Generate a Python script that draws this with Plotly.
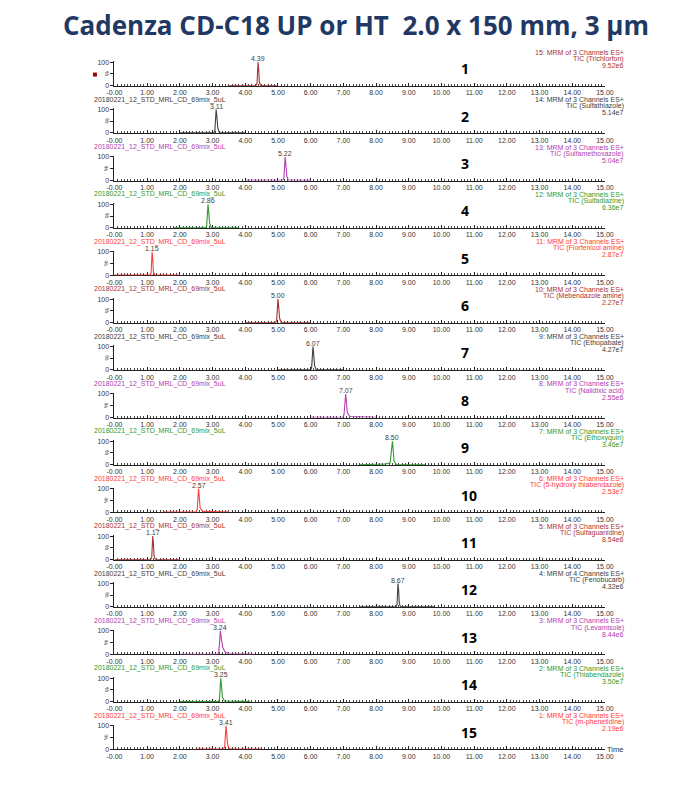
import plotly.graph_objects as go

# ---------------- data ----------------
compounds = ["Trichlorfon", "Sulfathiazole", "Sulfamethoxazole", "Sulfadiazine",
             "Florfenicol amine", "Mebendazole amine", "Ethopabate", "Nalidixic acid",
             "Ethoxyquin", "5-hydroxy thiabendazole", "Sulfaguanidine", "Fenobucarb",
             "Levamisole", "Thiabendazole", "m-phenetidine"]
function_no = [15, 14, 13, 12, 11, 10, 9, 8, 7, 6, 5, 4, 3, 2, 1]
channels = [3, 3, 3, 3, 3, 3, 3, 3, 3, 3, 3, 4, 3, 3, 3]
intensity_labels = ["9.52e6", "5.14e7", "5.04e7", "6.36e7", "2.87e7", "2.27e7", "4.27e7",
                    "2.55e6", "3.46e7", "2.53e7", "8.54e6", "4.32e6", "8.44e6", "3.50e7", "2.19e6"]
retention = [4.39, 3.11, 5.22, 2.86, 1.15, 5.00, 6.07, 7.07, 8.50, 2.57, 1.17, 8.67, 3.24, 3.25, 3.41]
peak_numbers = ["1", "2", "3", "4", "5", "6", "7", "8", "9", "10", "11", "12", "13", "14", "15"]
sample_name = "20180221_12_STD_MRL_CD_69mix_5uL"

# chromatogram vertices (time, %)
trace_times = [
    [3.50, 4.33, 4.36, 4.38, 4.39, 4.41, 4.43, 4.47, 5.00],
    [2.00, 3.04, 3.07, 3.10, 3.11, 3.13, 3.16, 3.21, 4.00],
    [4.00, 5.15, 5.18, 5.21, 5.22, 5.24, 5.27, 5.32, 6.00],
    [1.80, 2.79, 2.82, 2.85, 2.86, 2.88, 2.91, 2.96, 3.80],
    [0.00, 1.09, 1.12, 1.14, 1.15, 1.17, 1.19, 1.23, 2.00],
    [4.00, 4.93, 4.96, 4.99, 5.00, 5.02, 5.05, 5.10, 6.00],
    [5.00, 6.00, 6.03, 6.06, 6.07, 6.09, 6.12, 6.17, 7.00],
    [6.00, 6.99, 7.02, 7.05, 7.07, 7.09, 7.12, 7.20, 8.00],
    [7.50, 8.00, 8.30, 8.43, 8.47, 8.50, 8.52, 8.55, 8.62, 9.50],
    [1.50, 2.50, 2.53, 2.56, 2.57, 2.59, 2.62, 2.70, 3.50],
    [0.00, 1.11, 1.14, 1.16, 1.17, 1.19, 1.21, 1.25, 2.00],
    [7.50, 8.61, 8.64, 8.66, 8.67, 8.69, 8.71, 8.75, 9.80],
    [2.00, 3.15, 3.19, 3.22, 3.24, 3.27, 3.31, 3.38, 3.50, 4.25],
    [2.00, 3.18, 3.21, 3.24, 3.25, 3.27, 3.30, 3.36, 4.15],
    [2.50, 3.34, 3.37, 3.40, 3.41, 3.43, 3.46, 3.52, 4.50],
]
trace_levels = [
    [0, 0, 10, 70, 100, 70, 15, 0, 0],
    [0, 0, 12, 75, 100, 72, 20, 0, 0],
    [0, 0, 10, 72, 100, 70, 18, 0, 0],
    [0, 0, 10, 72, 100, 70, 18, 0, 0],
    [0, 0, 10, 75, 100, 70, 15, 0, 0],
    [0, 0, 10, 75, 100, 70, 18, 0, 0],
    [0, 0, 10, 72, 100, 70, 18, 0, 0],
    [0, 0, 12, 70, 100, 72, 20, 3, 0],
    [0, 0, 3, 8, 60, 100, 70, 15, 0, 0],
    [0, 0, 10, 75, 100, 70, 18, 3, 0],
    [0, 0, 10, 75, 100, 70, 15, 0, 0],
    [0, 0, 10, 75, 100, 70, 15, 0, 0],
    [0, 0, 10, 60, 100, 65, 30, 10, 2, 0],
    [0, 0, 10, 70, 100, 70, 20, 3, 0],
    [0, 0, 10, 72, 100, 70, 18, 0, 0],
]

x_tick_values = list(range(0, 16))
x_tick_labels = ["-0.00", "1.00", "2.00", "3.00", "4.00", "5.00", "6.00", "7.00", "8.00",
                 "9.00", "10.00", "11.00", "12.00", "13.00", "14.00", "15.00"]
y_tick_values = [0, 50, 100]
y_tick_labels = ["0", "", "100"]

# ---------------- styling ----------------
PAGE_W, PAGE_H = 699, 798
BODY = 8                      # default page margin around the plot div
W, H = PAGE_W - 2 * BODY, PAGE_H - 2 * BODY
palette = ["#a83232", "#404040", "#b040b0", "#2f9a2f", "#ff3b3b"]
font_ms = "Liberation Sans, Arial, sans-serif"
x_left_px, x_right_px = 109, 612
zero0_px, pitch_px, span_px = 84.0, 47.7, 23.5
unit_px = span_px / 100.0
y_lo, y_hi = -1, 105


def py(px):
    return 1 - (px - BODY) / H


def pxx(px):
    return (px - BODY) / W


fig = go.Figure()
layout = dict(
    width=W, height=H, margin=dict(l=0, r=0, t=0, b=0),
    paper_bgcolor="white", plot_bgcolor="white", showlegend=False,
)
annotations = []
shapes = []

for k in range(15):
    n = "" if k == 0 else str(k + 1)
    color = palette[k % 5]
    z = zero0_px + k * pitch_px
    fig.add_trace(go.Scatter(
        x=trace_times[k], y=trace_levels[k], mode="lines",
        line=dict(color=color, width=1.1), xaxis="x" + n, yaxis="y" + n,
        hoverinfo="skip",
    ))
    layout["xaxis" + n] = dict(
        domain=[pxx(x_left_px), pxx(x_right_px)], range=[0, 15], anchor="y" + n,
        tickmode="array", tickvals=x_tick_values, ticktext=x_tick_labels,
        ticks="inside", ticklen=3, tickwidth=1, tickcolor="#222",
        minor=dict(dtick=0.1, ticks="inside", ticklen=2, tickcolor="#444", tickwidth=0.8),
        showline=True, linecolor="#222", linewidth=1, showgrid=False, zeroline=False,
        tickfont=dict(family=font_ms, size=7, color="#333"), layer="below traces",
        fixedrange=True,
    )
    layout["yaxis" + n] = dict(
        domain=[py(z + (0 - y_lo) * unit_px), py(z - y_hi * unit_px)],
        range=[y_lo, y_hi], anchor="x" + n,
        tickmode="array", tickvals=y_tick_values, ticktext=y_tick_labels,
        ticks="outside", ticklen=3, tickwidth=1, tickcolor="#222",
        showline=True, linecolor="#222", linewidth=1, showgrid=False, zeroline=False,
        tickfont=dict(family=font_ms, size=7, color="#333"),
        fixedrange=True,
    )
    # rotated % on y axis
    annotations.append(dict(
        xref="paper", yref="paper", x=pxx(105), y=py(z - 12), text="%",
        showarrow=False, xanchor="right", yanchor="middle", textangle=-90,
        borderpad=0, font=dict(family=font_ms, size=6, color="#333"),
    ))
    # peak retention label
    annotations.append(dict(
        xref="x" + n, yref="y" + n, x=retention[k], y=100, text=f"{retention[k]:.2f}",
        showarrow=False, xanchor="center", yanchor="bottom", yshift=-1,
        borderpad=0, font=dict(family=font_ms, size=7, color="#404040"),
    ))
    # right-hand channel description
    top = z - pitch_px
    lines = [f"{function_no[k]}: MRM of {channels[k]} Channels ES+",
             f"TIC ({compounds[k]})", intensity_labels[k]]
    for j, t in enumerate(lines):
        annotations.append(dict(
            xref="paper", yref="paper", x=pxx(633), y=py(top + 14.2 + j * 6.6), text=t,
            showarrow=False, xanchor="right", yanchor="middle", borderpad=0,
            font=dict(family=font_ms, size=7, color=color),
        ))
    # sample name above panel
    if k > 0:
        annotations.append(dict(
            xref="paper", yref="paper", x=pxx(87), y=py(top + 14.2), text=sample_name,
            showarrow=False, xanchor="left", yanchor="middle", borderpad=0,
            font=dict(family=font_ms, size=7, color=color),
        ))
    # bold panel number
    annotations.append(dict(
        xref="paper", yref="paper", x=pxx(463), y=py(z - 17), text=f"<b>{peak_numbers[k]}</b>",
        showarrow=False, xanchor="left", yanchor="middle", borderpad=0,
        font=dict(family="Open Sans, Noto Sans, sans-serif", size=14, color="black"),
    ))

# "Time" axis caption
annotations.append(dict(
    xref="paper", yref="paper", x=pxx(613), y=py(zero0_px + 14 * pitch_px), text="Time",
    showarrow=False, xanchor="left", yanchor="middle", borderpad=0,
    font=dict(family=font_ms, size=7.5, color="#333"),
))
# Title
annotations.append(dict(
    xref="paper", yref="paper", x=pxx(357), y=py(23),
    text="<b>Cadenza CD-C18 UP or HT&nbsp;&nbsp;2.0 x 150 mm, 3 µm</b>",
    showarrow=False, xanchor="center", yanchor="middle", borderpad=0,
    font=dict(family="Open Sans, Noto Sans, sans-serif", size=26, color="#1f3864"),
))
# small red marker at the first trace
shapes.append(dict(
    type="rect", xref="paper", yref="paper",
    x0=pxx(87), x1=pxx(91), y0=py(75), y1=py(71),
    fillcolor="#a00000", line=dict(width=0),
))

layout["annotations"] = annotations
layout["shapes"] = shapes
fig.update_layout(**layout)
fig.write_html("out.html")
